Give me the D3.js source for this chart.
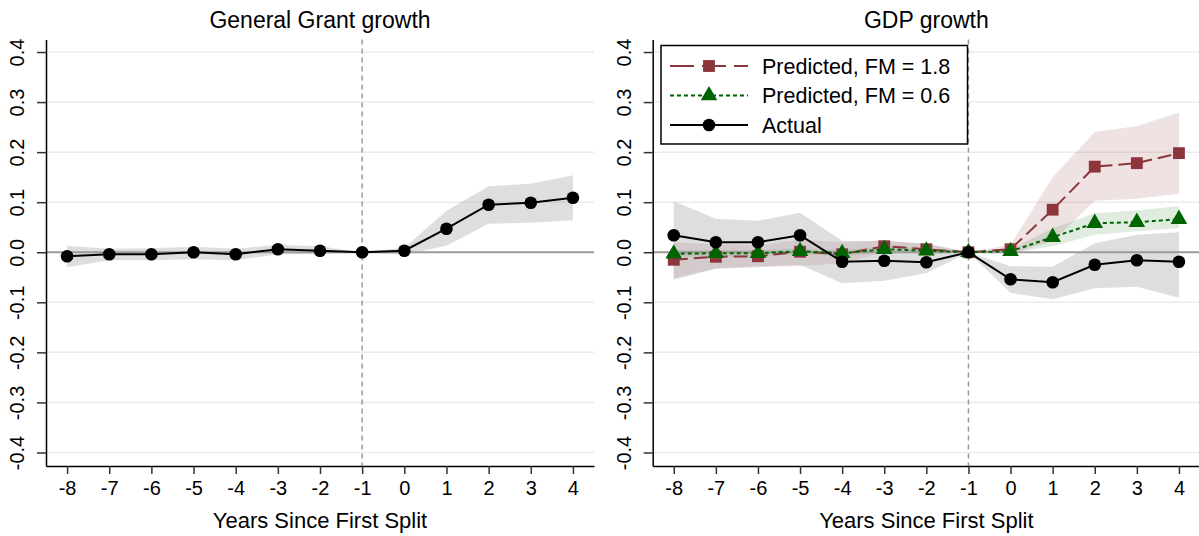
<!DOCTYPE html>
<html>
<head>
<meta charset="utf-8">
<script src="https://cdn.jsdelivr.net/npm/d3@7"></script>
<style>
  html, body { margin: 0; padding: 0; background: #fff; }
  svg { display: block; font-family: "Liberation Sans", Arial, sans-serif; }
</style>
</head>
<body>
<svg id="chart" width="1199" height="536"></svg>
<script>
const years = [-8, -7, -6, -5, -4, -3, -2, -1, 0, 1, 2, 3, 4];
const yTicks = [-0.4, -0.3, -0.2, -0.1, 0, 0.1, 0.2, 0.3, 0.4];

// General Grant growth
const grantEst = [-0.008, -0.004, -0.004, 0.000, -0.004, 0.006, 0.003, 0, 0.003, 0.047, 0.095, 0.099, 0.109];
const grantLo  = [-0.030, -0.016, -0.016, -0.014, -0.016, -0.004, -0.004, 0, -0.005, 0.013, 0.057, 0.059, 0.064];
const grantHi  = [0.013, 0.007, 0.008, 0.011, 0.007, 0.015, 0.012, 0, 0.009, 0.083, 0.132, 0.137, 0.154];

// GDP growth: actual
const gdpActual   = [0.034, 0.020, 0.020, 0.034, -0.019, -0.017, -0.020, 0, -0.054, -0.060, -0.025, -0.016, -0.019];
const gdpActualLo = [-0.055, -0.033, -0.030, -0.025, -0.062, -0.057, -0.042, 0, -0.081, -0.094, -0.072, -0.069, -0.091];
const gdpActualHi = [0.102, 0.067, 0.063, 0.079, 0.023, 0.022, 0.018, 0, -0.028, -0.029, 0.018, 0.035, 0.040];

// GDP growth: predicted, FM = 1.8
const gdpFm18   = [-0.015, -0.009, -0.008, 0.001, -0.004, 0.012, 0.006, 0, 0.006, 0.085, 0.171, 0.178, 0.198];
const gdpFm18Lo = [-0.052, -0.032, -0.028, -0.028, -0.022, 0.000, -0.004, 0, -0.003, 0.022, 0.103, 0.107, 0.117];
const gdpFm18Hi = [0.020, 0.016, 0.014, 0.025, 0.020, 0.024, 0.016, 0, 0.015, 0.150, 0.240, 0.252, 0.279];

// GDP growth: predicted, FM = 0.6
const gdpFm06   = [-0.003, -0.002, -0.002, 0.002, -0.002, 0.006, 0.003, 0, 0.002, 0.030, 0.058, 0.060, 0.066];
const gdpFm06Lo = [-0.010, -0.008, -0.008, -0.004, -0.008, 0.000, -0.002, 0, -0.002, 0.012, 0.035, 0.042, 0.048];
const gdpFm06Hi = [0.004, 0.004, 0.004, 0.008, 0.004, 0.012, 0.008, 0, 0.006, 0.048, 0.078, 0.084, 0.092];

const svg = d3.select('#chart');
const plotTop = 39.5, plotBottom = 466;
const FONT = '"Liberation Sans", Arial, sans-serif';

const RED = '#8c353b', GREEN = '#006400', BLACK = '#000';

// plain hyphen for negatives, like the original
const fmtX = d => String(d);
const fmtY = d => d3.format('.1f')(d).replace('\u2212', '-');

function series(est, lo, hi) {
    return years.map((yr, i) => ({ yr, est: est[i], lo: lo[i], hi: hi[i] }));
}

function drawPanel(left, right, title, layers) {
    const x = d3.scaleLinear().domain([-8.5, 4.5]).range([left, right]);
    const y = d3.scaleLinear().domain([-0.427, 0.425]).range([plotBottom, plotTop]);
    const g = svg.append('g');

    // gridlines
    g.append('g').selectAll('line')
        .data(yTicks.filter(t => t !== 0))
        .enter().append('line')
        .attr('x1', left).attr('x2', right)
        .attr('y1', d => y(d)).attr('y2', d => y(d))
        .attr('stroke', '#ebebeb').attr('stroke-width', 1.5);

    // confidence bands
    layers.forEach(l => {
        const area = d3.area().x(d => x(d.yr)).y0(d => y(d.lo)).y1(d => y(d.hi));
        g.append('path').datum(l.data)
            .attr('d', area)
            .attr('fill', l.band).attr('fill-opacity', l.bandOpacity);
    });

    // zero line
    g.append('line')
        .attr('x1', left).attr('x2', right)
        .attr('y1', y(0)).attr('y2', y(0))
        .attr('stroke', '#9a9a9a').attr('stroke-width', 1.8);

    // vertical reference at -1
    g.append('line')
        .attr('x1', x(-1)).attr('x2', x(-1))
        .attr('y1', plotTop).attr('y2', plotBottom)
        .attr('stroke', '#9a9a9a').attr('stroke-width', 1.5)
        .attr('stroke-dasharray', '5,4');

    // axes
    const xAxis = g.append('g')
        .attr('transform', `translate(0,${plotBottom})`)
        .call(d3.axisBottom(x).tickValues(years).tickFormat(fmtX).tickSize(8).tickPadding(7).tickSizeOuter(0));
    xAxis.select('.domain').attr('stroke', '#000').attr('stroke-width', 1.5);
    xAxis.selectAll('.tick line').attr('stroke', '#333').attr('stroke-width', 1.5);
    xAxis.selectAll('text').attr('font-size', 20).attr('fill', '#000').attr('font-family', FONT);

    const yAxis = g.append('g')
        .attr('transform', `translate(${left},0)`)
        .call(d3.axisLeft(y).tickValues(yTicks).tickFormat(fmtY).tickSize(9).tickSizeOuter(0));
    yAxis.select('.domain').attr('stroke', '#000').attr('stroke-width', 1.5);
    yAxis.selectAll('.tick line').attr('stroke', '#333').attr('stroke-width', 1.5);
    yAxis.selectAll('text')
        .attr('font-size', 20).attr('fill', '#000').attr('font-family', FONT)
        .attr('text-anchor', 'middle')
        .attr('x', 0).attr('dy', 0)
        .attr('transform', 'translate(-22,0) rotate(-90)');

    // lines and markers
    layers.forEach(l => {
        const line = d3.line().x(d => x(d.yr)).y(d => y(d.est));
        g.append('path').datum(l.data)
            .attr('d', line)
            .attr('fill', 'none').attr('stroke', l.color).attr('stroke-width', 2)
            .attr('stroke-dasharray', l.dash);
        g.append('g').selectAll('path')
            .data(l.data)
            .enter().append('path')
            .attr('d', d3.symbol().type(l.symbol).size(l.size))
            .attr('transform', d => `translate(${x(d.yr)},${y(d.est)})`)
            .attr('fill', l.color);
    });

    // titles
    g.append('text')
        .attr('x', (left + right) / 2).attr('y', 28)
        .attr('text-anchor', 'middle').attr('font-size', 23)
        .text(title);
    g.append('text')
        .attr('x', (left + right) / 2).attr('y', 528)
        .attr('text-anchor', 'middle').attr('font-size', 22)
        .text('Years Since First Split');

    return { x, y, g };
}

const actualStyle = { color: BLACK, dash: null, symbol: d3.symbolCircle, size: 125, band: '#9a9a9a', bandOpacity: 0.33 };
const fm18Style = { color: RED, dash: '14,6', symbol: d3.symbolSquare, size: 140, band: RED, bandOpacity: 0.14 };
const fm06Style = { color: GREEN, dash: '4,3', symbol: d3.symbolTriangle, size: 120, band: GREEN, bandOpacity: 0.12 };

drawPanel(46, 594, 'General Grant growth', [
    { ...actualStyle, data: series(grantEst, grantLo, grantHi) }
]);

// actual drawn last so its markers sit on top
drawPanel(652.7, 1200, 'GDP growth', [
    { ...fm18Style, data: series(gdpFm18, gdpFm18Lo, gdpFm18Hi) },
    { ...fm06Style, data: series(gdpFm06, gdpFm06Lo, gdpFm06Hi) },
    { ...actualStyle, data: series(gdpActual, gdpActualLo, gdpActualHi) }
]);

// legend
const legendItems = [
    { label: 'Predicted, FM = 1.8', ...fm18Style, legendDash: '24,8' },
    { label: 'Predicted, FM = 0.6', ...fm06Style, legendDash: '4,3' },
    { label: 'Actual', ...actualStyle, legendDash: null }
];
const legend = svg.append('g');
legend.append('rect')
    .attr('x', 661).attr('y', 45.5).attr('width', 306.5).attr('height', 98.5)
    .attr('fill', '#fff').attr('stroke', '#000').attr('stroke-width', 1.5);
const rows = legend.selectAll('g.row')
    .data(legendItems)
    .enter().append('g')
    .attr('class', 'row')
    .attr('transform', (d, i) => `translate(0,${66 + i * 29.5})`);
rows.append('line')
    .attr('x1', 670).attr('x2', 748)
    .attr('stroke', d => d.color).attr('stroke-width', 2)
    .attr('stroke-dasharray', d => d.legendDash);
rows.append('path')
    .attr('d', d => d3.symbol().type(d.symbol).size(d.size)())
    .attr('transform', 'translate(709,0)')
    .attr('fill', d => d.color);
rows.append('text')
    .attr('x', 762).attr('dy', '0.36em')
    .attr('font-size', 21.5)
    .text(d => d.label);
</script>
</body>
</html>
